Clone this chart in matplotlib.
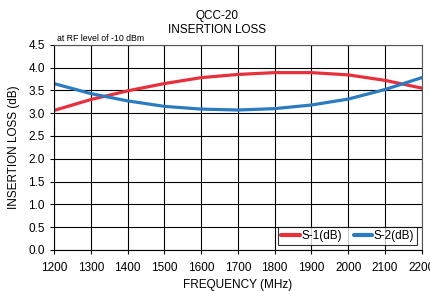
import numpy as np
import matplotlib.pyplot as plt

plt.rcParams['font.family'] = ['Liberation Sans', 'DejaVu Sans']

# frequency (MHz) and insertion loss (dB) per port
freq = [1200, 1300, 1400, 1500, 1600, 1700, 1800, 1900, 2000, 2100, 2200]
s1 = [3.06, 3.30, 3.49, 3.65, 3.78, 3.85, 3.89, 3.89, 3.84, 3.72, 3.55]
s2 = [3.65, 3.43, 3.27, 3.15, 3.09, 3.07, 3.10, 3.18, 3.31, 3.52, 3.78]

fig = plt.figure(figsize=(4.3, 2.91), dpi=100)
ax = fig.add_axes([0.1256, 0.141, 0.8554, 0.705])

ax.plot(freq, s1, color="#E8303C", linewidth=2.3, label="S-1(dB)", solid_capstyle="round")
ax.plot(freq, s2, color="#2B7BC0", linewidth=2.3, label="S-2(dB)", solid_capstyle="round")

ax.set_xlim(1200, 2200)
ax.set_ylim(0, 4.5)
ax.set_xticks(np.arange(1200, 2201, 100))
ax.set_yticks(np.arange(0, 4.51, 0.5))
ax.set_yticklabels([f"{v:.1f}" for v in np.arange(0, 4.51, 0.5)])
ax.tick_params(labelsize=8.5, direction="out", length=3, width=0.8, color="black")
ax.tick_params(axis="x", pad=6)

ax.grid(True, color="black", linewidth=0.8)
ax.set_axisbelow(True)
for sp in ax.spines.values():
    sp.set_color("#555555")
    sp.set_linewidth(0.8)
ax.spines["left"].set_color("black")
ax.spines["bottom"].set_color("black")

ax.set_xlabel("FREQUENCY (MHz)", fontsize=8.5, labelpad=3)
ax.set_ylabel("INSERTION LOSS (dB)", fontsize=8.5, labelpad=6)

fig.text(0.505, 0.965, "QCC-20\nINSERTION LOSS", ha="center", va="top",
         fontsize=8.5, linespacing=1.25)
ax.text(0.008, 1.01, "at RF level of -10 dBm", transform=ax.transAxes,
        fontsize=6.3, ha="left", va="bottom")

leg = ax.legend(loc="lower right", ncol=2, fontsize=8.5, frameon=True,
                fancybox=False, edgecolor="black", handlelength=1.6,
                handletextpad=0.1, columnspacing=1.0, borderpad=0.25,
                borderaxespad=0.4)
leg.get_frame().set_linewidth(0.8)
for line in leg.get_lines():
    line.set_linewidth(3)

fig.savefig("out.png", dpi=100)
